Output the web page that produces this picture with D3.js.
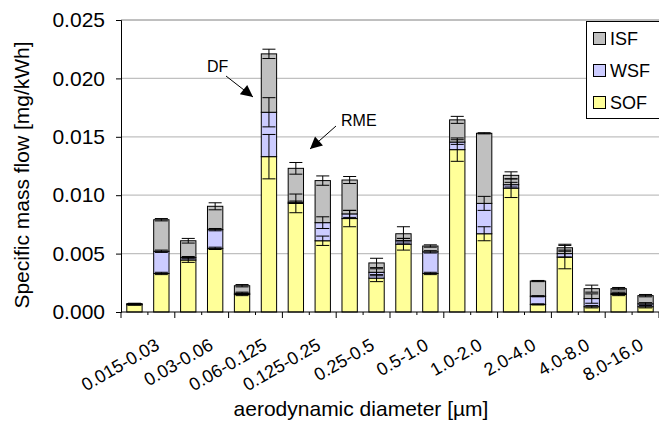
<!DOCTYPE html>
<html>
<head>
<meta charset="utf-8">
<script src="https://cdn.jsdelivr.net/npm/d3@7"></script>
<style>
  html, body { margin: 0; padding: 0; background: #fff; }
  svg { display: block; font-family: "Liberation Sans", Arial, sans-serif; }
</style>
</head>
<body>
<div id="chart"></div>
<script>
// size bins (one label per pair of bars)
const sizeBins = ["0.015-0.03", "0.03-0.06", "0.06-0.125", "0.125-0.25", "0.25-0.5",
                  "0.5-1.0", "1.0-2.0", "2.0-4.0", "4.0-8.0", "8.0-16.0"];

// 20 bars, two per size bin
const sof = [0.00062, 0.0033, 0.00445, 0.00545, 0.0015, 0.0133, 0.0093, 0.0061, 0.0080, 0.0029,
             0.0058, 0.0033, 0.0139, 0.0067, 0.0106, 0.00065, 0.0047, 0.00045, 0.0015, 0.00045];
const wsf = [0.00003, 0.0019, 0.0002, 0.0016, 0.0001, 0.0038, 0.0001, 0.00155, 0.0004, 0.0005,
             0.0003, 0.00185, 0.00065, 0.0026, 0.0003, 0.0007, 0.0003, 0.0007, 0.0001, 0.00025];
const isf = [0.00007, 0.0027, 0.00145, 0.0020, 0.00065, 0.0050, 0.0029, 0.0036, 0.0029, 0.0008,
             0.0006, 0.0005, 0.0019, 0.0060, 0.0008, 0.0013, 0.0005, 0.00085, 0.0004, 0.0007];

// error bars at each stack level
const sofErr = [0.00003, 0.0001, 0.0002, 0.0001, 0.0001, 0.0019, 0.0008, 0.0004, 0.0007, 0.0003,
                0.0005, 0.0001, 0.001, 0.0006, 0.0008, 0.00005, 0.001, 0.0001, 0.0001, 0.0001];
const wsfErr = [0.00003, 0.0001, 0.0001, 0.0001, 0.0001, 0.00125, 0.0001, 0.0005, 0.0003, 0.0003,
                0.0002, 0.0001, 0.0002, 0.0006, 0.0002, 0.00005, 0.0003, 0.0004, 0.0001, 0.0001];
const isfErr = [0.00003, 0.0001, 0.0002, 0.0003, 0.0001, 0.0004, 0.0005, 0.0004, 0.0003, 0.0004,
                0.0006, 0.0001, 0.0003, 0.00005, 0.0003, 0.00005, 0.0003, 0.0003, 0.0001, 0.0001];

const yTicks = [0, 0.005, 0.010, 0.015, 0.020, 0.025];
const keys = ["SOF", "WSF", "ISF"];
const colors = { SOF: "#FFFF99", WSF: "#CCCCFF", ISF: "#C0C0C0" };

const width = 659, height = 424;
const m = { left: 121, right: 659, top: 20, bottom: 312 };

const rows = sof.map((d, i) => ({ i, SOF: d, WSF: wsf[i], ISF: isf[i] }));
const errs = { SOF: sofErr, WSF: wsfErr, ISF: isfErr };

const x = d3.scaleBand()
  .domain(rows.map(d => d.i))
  .range([m.left, m.right])
  .paddingInner(0.43)
  .paddingOuter(0.215);

const y = d3.scaleLinear().domain([0, 0.025]).range([m.bottom, m.top]);

const svg = d3.select("#chart").append("svg")
  .attr("width", width)
  .attr("height", height);

// gridlines
svg.append("g")
  .selectAll("line")
  .data(yTicks.slice(1, -1))
  .join("line")
    .attr("x1", m.left).attr("x2", m.right)
    .attr("y1", d => y(d)).attr("y2", d => y(d))
    .attr("stroke", "#c0c0c0")
    .attr("stroke-width", 1.3);

// plot border (top)
svg.append("line")
  .attr("x1", m.left).attr("x2", m.right)
  .attr("y1", m.top).attr("y2", m.top)
  .attr("stroke", "#808080");

const stacked = d3.stack().keys(keys)(rows);

svg.append("g")
  .selectAll("g")
  .data(stacked)
  .join("g")
    .attr("fill", s => colors[s.key])
  .selectAll("rect")
  .data(s => s)
  .join("rect")
    .attr("x", d => x(d.data.i))
    .attr("width", x.bandwidth())
    .attr("y", d => y(d[1]))
    .attr("height", d => y(d[0]) - y(d[1]))
    .attr("stroke", "#000")
    .attr("stroke-width", 1);

// error bars
const capW = x.bandwidth() * 0.85;
const eb = [];
stacked.forEach(s => s.forEach(d => eb.push({ i: d.data.i, v: d[1], e: errs[s.key][d.data.i] })));

svg.append("g").attr("stroke", "#000").attr("stroke-width", 1)
  .selectAll("path")
  .data(eb)
  .join("path")
    .attr("fill", "none")
    .attr("d", d => {
      const cx = x(d.i) + x.bandwidth() / 2;
      const y0 = y(d.v - d.e), y1 = y(d.v + d.e);
      return `M${cx},${y0}V${y1}M${cx - capW / 2},${y0}H${cx + capW / 2}M${cx - capW / 2},${y1}H${cx + capW / 2}`;
    });

// y axis
const yAxis = svg.append("g")
  .attr("transform", `translate(${m.left},0)`)
  .call(d3.axisLeft(y).tickValues(yTicks).tickFormat(d3.format(".3f")).tickSize(5).tickPadding(11));
yAxis.select(".domain").attr("stroke", "#000");
yAxis.selectAll("text").attr("font-size", 21).attr("font-family", "Liberation Sans, Arial, sans-serif").attr("fill", "#000");

// x axis
const step = x.step();
svg.append("line")
  .attr("x1", m.left).attr("x2", m.right)
  .attr("y1", m.bottom).attr("y2", m.bottom)
  .attr("stroke", "#000");
svg.append("g")
  .selectAll("line")
  .data(d3.range(0, rows.length + 1))
  .join("line")
    .attr("x1", k => m.left + k * step).attr("x2", k => m.left + k * step)
    .attr("y1", m.bottom).attr("y2", k => m.bottom + (k % 2 === 0 ? 6 : 3))
    .attr("stroke", "#000");

svg.append("g")
  .selectAll("text")
  .data(sizeBins)
  .join("text")
    .attr("transform", (d, j) => `translate(${m.left + (2 * j + 1) * step + 9.5},343) rotate(-30)`)
    .attr("text-anchor", "end")
    .attr("dy", "0.35em")
    .attr("font-size", 18)
    .text(d => d);

// axis titles
svg.append("text")
  .attr("x", 361).attr("y", 416)
  .attr("text-anchor", "middle")
  .attr("font-size", 21)
  .text("aerodynamic diameter [µm]");

svg.append("text")
  .attr("transform", "translate(29,175) rotate(-90)")
  .attr("text-anchor", "middle")
  .attr("font-size", 21)
  .text("Specific mass flow [mg/kWh]");

// legend
const lg = svg.append("g");
lg.append("rect")
  .attr("x", 586.5).attr("y", 21.5)
  .attr("width", 80).attr("height", 97)
  .attr("fill", "#fff").attr("stroke", "#000");
const legendKeys = ["ISF", "WSF", "SOF"];
const li = lg.selectAll("g.item").data(legendKeys).join("g")
  .attr("transform", (d, j) => `translate(593,${32 + j * 32})`);
li.append("rect")
  .attr("x", 0.5).attr("y", 0.5).attr("width", 12).attr("height", 12)
  .attr("fill", d => colors[d]).attr("stroke", "#000");
li.append("text")
  .attr("x", 17).attr("y", 13)
  .attr("font-size", 18)
  .text(d => d);

// annotations
svg.append("defs").append("marker")
  .attr("id", "arr").attr("viewBox", "0 0 10 10")
  .attr("refX", 10).attr("refY", 5)
  .attr("markerWidth", 14).attr("markerHeight", 12)
  .attr("markerUnits", "userSpaceOnUse")
  .attr("orient", "auto")
  .append("path").attr("d", "M0,0L10,5L0,10Z").attr("fill", "#000");

svg.append("text").attr("x", 207).attr("y", 72).attr("font-size", 16).text("DF");
svg.append("line")
  .attr("x1", 226).attr("y1", 76).attr("x2", 253).attr("y2", 97)
  .attr("stroke", "#000").attr("marker-end", "url(#arr)");

svg.append("text").attr("x", 341).attr("y", 126).attr("font-size", 16).text("RME");
svg.append("line")
  .attr("x1", 336).attr("y1", 126).attr("x2", 310).attr("y2", 149)
  .attr("stroke", "#000").attr("marker-end", "url(#arr)");
</script>
</body>
</html>
